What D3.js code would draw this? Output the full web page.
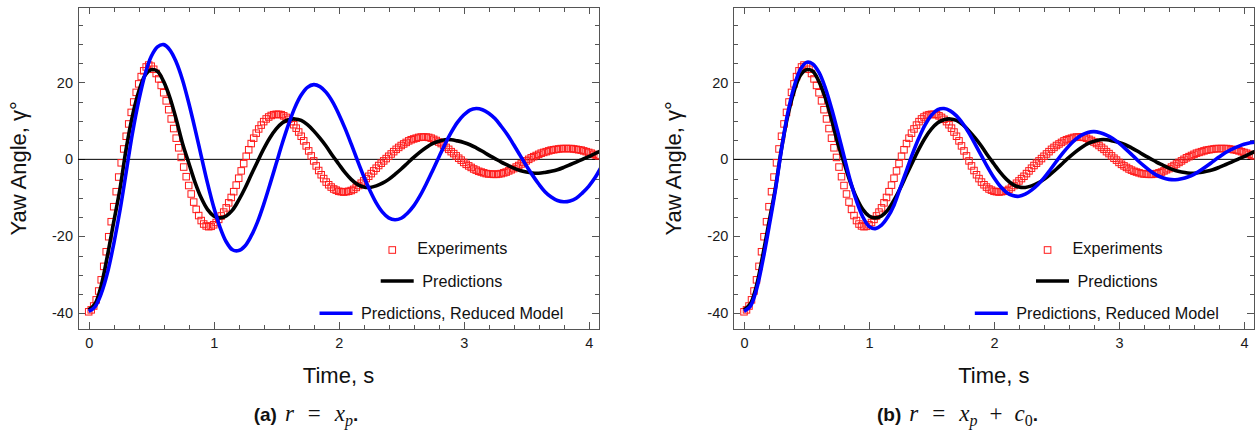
<!DOCTYPE html>
<html><head><meta charset="utf-8">
<script src="https://cdn.jsdelivr.net/npm/d3@7"></script>
<style>
html,body{margin:0;padding:0;background:#fff;}
svg{display:block;font-family:"Liberation Sans",Arial,Helvetica,sans-serif;}
</style></head><body>
<svg id="chart" width="1255" height="431"></svg>
<script>
// Measured yaw angle, sampled every 0.02 s from t = 0
const expStart = 0, expStep = 0.02;
const expYaw = [
  -39.6,-39.1,-38.1,-36.5,-34.2,-31.3,-27.8,-24.0,-20.1,-16.2,
  -12.3,-8.4,-4.6,-0.9,2.7,6.0,9.2,12.2,14.9,17.4,
  19.6,21.5,23.0,24.0,24.5,24.2,23.4,22.3,20.9,19.2,
  17.3,15.2,12.9,10.5,8.0,5.5,3.0,0.5,-2.0,-4.5,
  -6.8,-9.0,-11.1,-13.0,-14.6,-15.9,-16.8,-17.3,-17.5,-17.4,
  -17.0,-16.4,-15.6,-14.7,-13.7,-12.6,-11.3,-9.9,-8.4,-6.7,
  -4.9,-3.0,-1.1,0.8,2.5,4.1,5.5,6.8,7.9,8.9,
  9.8,10.5,11.0,11.4,11.6,11.7,11.7,11.6,11.3,10.9,
  10.4,9.8,9.0,8.1,7.1,6.0,4.8,3.5,2.2,0.9,
  -0.4,-1.7,-2.9,-4.0,-5.0,-5.9,-6.6,-7.2,-7.7,-8.0,
  -8.3,-8.4,-8.5,-8.4,-8.3,-8.1,-7.8,-7.3,-6.8,-6.2,
  -5.6,-5.0,-4.4,-3.7,-3.0,-2.3,-1.6,-1.0,-0.4,0.2,
  0.8,1.4,2.0,2.6,3.1,3.6,4.0,4.4,4.8,5.1,
  5.3,5.5,5.7,5.8,5.8,5.8,5.7,5.5,5.2,4.9,
  4.5,4.1,3.6,3.1,2.6,2.0,1.5,0.9,0.3,-0.2,
  -0.8,-1.3,-1.7,-2.1,-2.5,-2.8,-3.1,-3.3,-3.5,-3.7,
  -3.8,-3.8,-3.9,-3.9,-3.8,-3.7,-3.5,-3.3,-3.0,-2.7,
  -2.4,-2.0,-1.6,-1.2,-0.8,-0.4,0.0,0.4,0.7,1.0,
  1.3,1.6,1.8,2.0,2.2,2.4,2.5,2.6,2.7,2.8,
  2.8,2.8,2.8,2.8,2.7,2.6,2.5,2.4,2.2,2.0,
  1.8,1.6,1.3,1.1,0.9
];

// Model curves, sampled every 0.05 s from t = 0
const predStart = 0, predStep = 0.05;
const predYaw = [
  -39.1,-37.6,-32.8,-25.0,-16.3,-7.7,2.8,11.3,17.6,21.8,
  23.3,22.9,20.2,16.0,10.4,4.2,-0.9,-5.9,-10.0,-13.0,
  -14.7,-15.2,-14.7,-13.2,-10.6,-7.5,-4.0,-0.6,2.7,5.6,
  7.9,9.5,10.3,10.5,10.1,9.0,7.4,5.5,3.4,1.0,
  -1.2,-3.4,-5.2,-6.5,-7.2,-7.3,-6.9,-6.2,-5.2,-3.9,
  -2.5,-1.0,0.5,1.9,3.1,4.1,4.7,5.1,5.1,4.8,
  4.4,3.8,3.0,2.1,1.1,0.2,-0.7,-1.5,-2.3,-2.9,
  -3.3,-3.55,-3.6,-3.4,-3.1,-2.7,-2.1,-1.4,-0.7,0.0,
  0.7,1.5,2.2
];
// Reduced model with r = x_p
const reducedYawA = [
  -39.5,-38.3,-34.9,-29.5,-22.0,-13.3,-3.3,6.8,15.2,22.0,
  26.7,29.2,29.8,28.4,25.3,20.7,14.7,8.0,0.9,-6.1,
  -12.4,-17.6,-21.4,-23.5,-23.7,-22.5,-19.9,-16.3,-11.7,-6.5,
  -1.1,4.3,9.2,13.5,16.7,18.7,19.4,18.9,17.4,15.0,
  11.8,8.1,4.0,-0.3,-4.4,-8.1,-11.3,-13.7,-15.2,-15.7,
  -15.3,-14.0,-12.1,-9.5,-6.4,-3.0,0.5,3.9,7.0,9.6,
  11.5,12.8,13.2,12.9,12.0,10.6,8.6,6.4,3.8,1.1,
  -1.6,-4.1,-6.4,-8.4,-9.8,-10.7,-11.0,-10.8,-10.1,-8.7,
  -7.0,-4.8,-2.0
];
// Reduced model with r = x_p + c_0
const reducedYawB = [
  -39.5,-38.2,-33.8,-26.4,-17.6,-8.2,2.6,12.0,18.8,23.3,
  25.2,24.8,22.6,18.6,13.3,7.2,0.8,-5.5,-10.8,-14.9,
  -17.4,-18.0,-17.1,-15.0,-11.9,-7.4,-2.9,1.6,5.6,9.0,
  11.5,12.9,13.2,12.6,11.3,9.3,6.8,3.9,0.9,-2.1,
  -4.8,-7.0,-8.6,-9.4,-9.6,-9.05,-8.0,-6.6,-4.8,-2.7,
  -0.5,1.6,3.5,5.1,6.3,7.0,7.2,6.9,6.3,5.4,
  4.2,2.8,1.3,-0.3,-1.7,-3.0,-4.1,-4.8,-5.2,-5.3,
  -5.05,-4.6,-3.9,-2.9,-1.8,-0.6,0.6,1.7,2.6,3.3,
  3.9,4.3,4.5
];

const xMajorTicks = [0, 1, 2, 3, 4];
const yMajorTicks = [-40, -20, 0, 20];
const xDomain = [-0.0856, 4.0824];
const yDomain = [-44.15, 39.5];
const legendLabels = ["Experiments", "Predictions", "Predictions, Reduced Model"];
const xTitle = "Time, s";
const yTitle = "Yaw Angle, \u03b3\u00b0";

const RED = "#ff1a1a", BLACK = "#000", BLUE = "#0000ff", FRAME = "#555";

const svg = d3.select("#chart");
let clipId = 0;

function toPoints(values, t0, dt) {
  return values.map((v, i) => [t0 + i * dt, v]);
}

function drawPanel(opts) {
  const left = opts.left, top = 7.3, width = 521, height = 322;
  const g = svg.append("g");
  const x = d3.scaleLinear().domain(xDomain).range([left, left + width]);
  const y = d3.scaleLinear().domain(yDomain).range([top + height, top]);

  const cid = "clip" + (clipId++);
  svg.append("clipPath").attr("id", cid).append("rect")
    .attr("x", left).attr("y", top).attr("width", width).attr("height", height);

  const xMinor = d3.range(0, 4.1, 0.2).filter(t => Math.abs(t - Math.round(t)) > 1e-6);
  const yMinor = d3.range(-40, 39, 5).filter(v => v % 20 !== 0);

  // ticks on all four sides, pointing inward
  function axis(gen, scale, vals, size, labels, transform, pad) {
    const a = gen(scale).tickValues(vals).tickSizeInner(size).tickSizeOuter(0)
      .tickPadding(pad);
    if (!labels) a.tickFormat("");
    else a.tickFormat(d => d3.format("d")(d).replace("\u2212", "-"));
    const ag = g.append("g").attr("transform", transform).call(a);
    ag.select(".domain").remove();
    ag.selectAll("line").attr("stroke", FRAME).attr("shape-rendering", "crispEdges");
    ag.selectAll("text").attr("font-size", 14.5).attr("fill", "#1a1a1a")
      .attr("font-family", '"Liberation Sans",Arial,sans-serif');
    return ag;
  }
  const bottomY = top + height, rightX = left + width;
  axis(d3.axisBottom, x, xMajorTicks, -7, true, `translate(0,${bottomY})`, 8.7);
  axis(d3.axisBottom, x, xMinor, -4.5, false, `translate(0,${bottomY})`, 3);
  axis(d3.axisTop, x, xMajorTicks, -7, false, `translate(0,${top})`, 3);
  axis(d3.axisTop, x, xMinor, -4.5, false, `translate(0,${top})`, 3);
  axis(d3.axisLeft, y, yMajorTicks, -7, true, `translate(${left},0)`, 5);
  axis(d3.axisLeft, y, yMinor, -4.5, false, `translate(${left},0)`, 3);
  axis(d3.axisRight, y, yMajorTicks, -7, false, `translate(${rightX},0)`, 3);
  axis(d3.axisRight, y, yMinor, -4.5, false, `translate(${rightX},0)`, 3);

  // frame
  g.append("rect").attr("x", left).attr("y", top).attr("width", width).attr("height", height)
    .attr("fill", "none").attr("stroke", FRAME).attr("stroke-width", 1)
    .attr("shape-rendering", "crispEdges");

  const plot = g.append("g").attr("clip-path", `url(#${cid})`);

  // zero line
  plot.append("line").attr("x1", left).attr("x2", rightX)
    .attr("y1", y(0)).attr("y2", y(0)).attr("stroke", "#000").attr("stroke-width", 1);

  // experiments: hollow squares
  const sq = 6.5;
  plot.append("g").selectAll("rect").data(toPoints(expYaw, expStart, expStep)).join("rect")
    .attr("x", d => x(d[0]) - sq / 2).attr("y", d => y(d[1]) - sq / 2)
    .attr("width", sq).attr("height", sq)
    .attr("fill", "none").attr("stroke", RED).attr("stroke-width", 1);

  const line = d3.line().x(d => x(d[0])).y(d => y(d[1])).curve(d3.curveCatmullRom.alpha(0.5));
  plot.append("path").datum(toPoints(predYaw, predStart, predStep)).attr("d", line)
    .attr("fill", "none").attr("stroke", BLACK).attr("stroke-width", 3.6)
    .attr("stroke-linejoin", "round");
  plot.append("path").datum(toPoints(opts.reduced, predStart, predStep)).attr("d", line)
    .attr("fill", "none").attr("stroke", BLUE).attr("stroke-width", 3.6)
    .attr("stroke-linejoin", "round");

  // legend, rows centred on one axis
  const cx = left + 363.5;
  const rowY = [248.6, 281, 313.3];
  legendLabels.forEach((lab, i) => {
    const row = g.append("g");
    const txt = row.append("text").attr("y", rowY[i]).attr("dy", "0.35em")
      .attr("font-size", 16.2).attr("fill", "#111").text(lab);
    const w = txt.node().getComputedTextLength();
    const total = 33 + 8.5 + w;
    const sx = cx - total / 2;
    txt.attr("x", sx + 33 + 8.5);
    const sc = sx + 16.5;
    if (i === 0) {
      row.append("rect").attr("x", sc - 3.3).attr("y", rowY[i] + 1.4 - 3.3)
        .attr("width", 6.6).attr("height", 6.6)
        .attr("fill", "none").attr("stroke", RED).attr("stroke-width", 1);
    } else {
      row.append("line").attr("x1", sx).attr("x2", sx + 33)
        .attr("y1", rowY[i]).attr("y2", rowY[i])
        .attr("stroke", i === 1 ? BLACK : BLUE).attr("stroke-width", 3.6);
    }
  });

  // axis titles
  g.append("text").attr("x", left + width / 2).attr("y", 383.3)
    .attr("text-anchor", "middle").attr("font-size", 22).attr("fill", "#111").text(xTitle);
  g.append("text").attr("transform", `translate(${left - 52},${top + height / 2}) rotate(-90)`)
    .attr("text-anchor", "middle").attr("font-size", 22).attr("fill", "#111").text(yTitle);

  // caption
  const cap = g.append("text").attr("x", opts.captionX).attr("y", 421)
    .attr("text-anchor", "middle").attr("fill", "#111");
  opts.caption.forEach(p => {
    const t = cap.append("tspan").text(p.t);
    if (p.dx) t.attr("dx", p.dx);
    if (p.dy) t.attr("dy", p.dy);
    if (p.bold) t.attr("font-weight", "bold").attr("font-size", 19)
      .attr("font-family", '"Liberation Sans",Arial,sans-serif');
    else t.attr("font-family", '"Liberation Serif","Times New Roman",serif')
      .attr("font-size", p.size || 23).attr("font-style", p.italic ? "italic" : "normal");
  });
}

drawPanel({
  left: 78, reduced: reducedYawA, captionX: 306,
  caption: [
    {t: "(a)", bold: true},
    {t: "r", italic: true, dx: 8},
    {t: "=", dx: 14},
    {t: "x", italic: true, dx: 14},
    {t: "p", italic: true, size: 16, dy: 5},
    {t: ".", bold: true, dy: -5}
  ]
});
drawPanel({
  left: 733.3, reduced: reducedYawB, captionX: 957.5,
  caption: [
    {t: "(b)", bold: true},
    {t: "r", italic: true, dx: 8},
    {t: "=", dx: 14},
    {t: "x", italic: true, dx: 14},
    {t: "p", italic: true, size: 16, dy: 5},
    {t: "+", dx: 12, dy: -5},
    {t: "c", italic: true, dx: 12},
    {t: "0", size: 16, dy: 5},
    {t: ".", bold: true, dy: -5}
  ]
});
</script>
</body></html>
